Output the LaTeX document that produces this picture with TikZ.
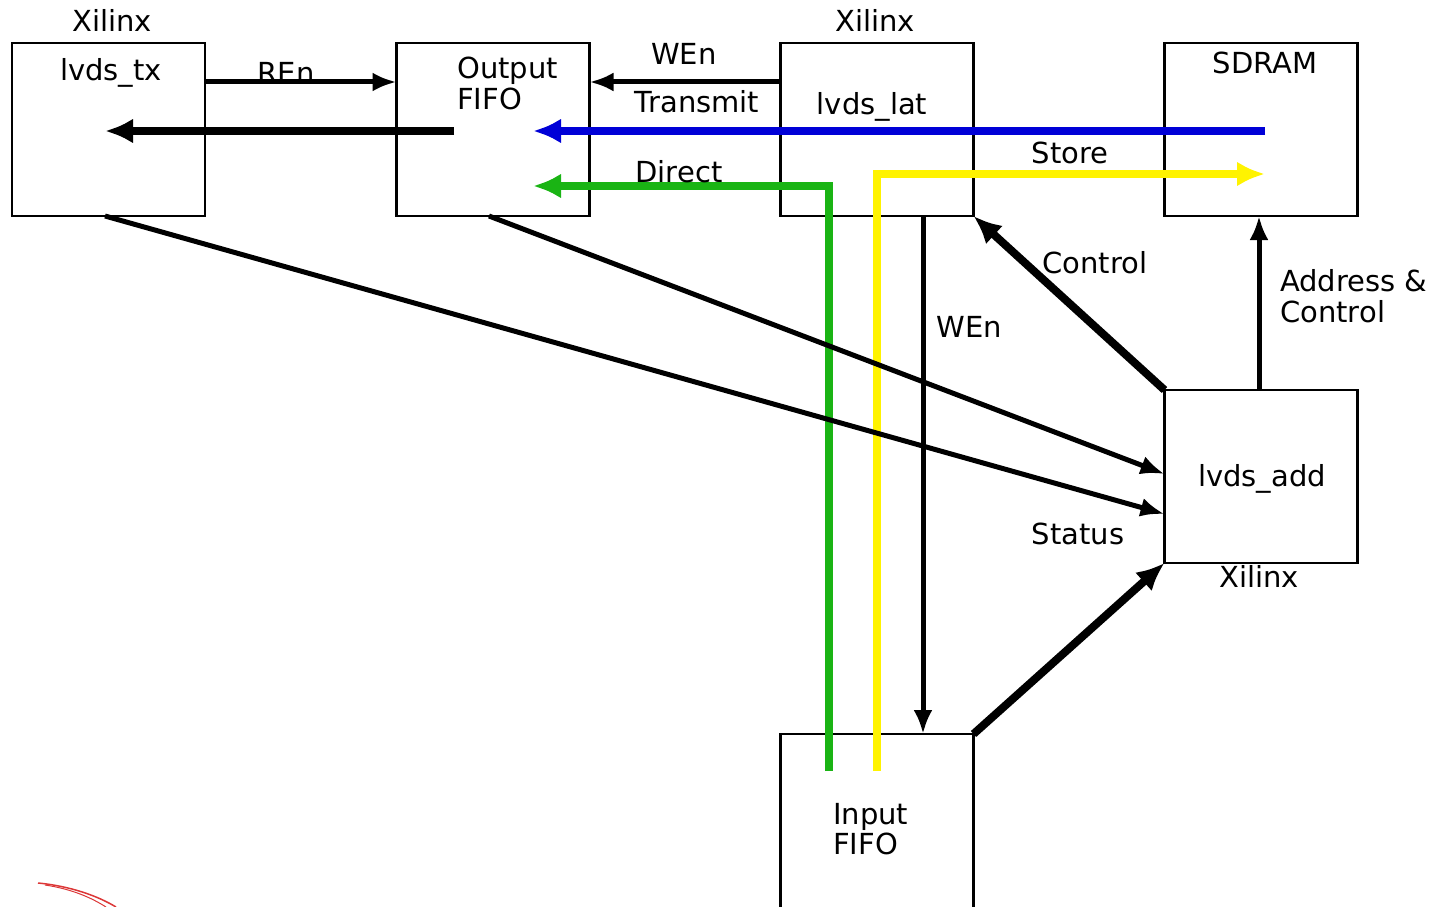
\documentclass[tikz,border=0pt]{standalone}
\usepackage{fontspec}
\setmainfont{DejaVu Sans}
\usetikzlibrary{arrows.meta}

\definecolor{busblue}{RGB}{0,0,215}
\definecolor{busgreen}{RGB}{26,180,20}
\definecolor{busyellow}{RGB}{255,243,0}
\definecolor{swoosh}{RGB}{220,55,55}

\begin{document}
\begin{tikzpicture}[x=1pt,y=-1pt,font=\fontsize{29}{31}\selectfont,
  blk/.style={draw,line width=2.5pt,minimum width=193pt,minimum height=173pt,inner sep=0pt,outer sep=0pt},
  lbl/.style={inner sep=0pt,anchor=base},
  lbll/.style={inner sep=0pt,anchor=base west},
  wire/.style={line width=5pt,-{Latex[length=24pt,width=19pt]}},
  bus/.style={line width=8pt,-{Latex[length=28pt,width=25pt]}}]
 \useasboundingbox (0,0) rectangle (1446,907);

 % blocks
 \node[blk] (tx) at (108.5,129.5) {};
 \node[blk] (ofifo) at (493,129.5) {};
 \node[blk] (lat) at (877,129.5) {};
 \node[blk] (sdram) at (1261,129.5) {};
 \node[blk] (add) at (1261,476.5) {};
 \node[blk,minimum height=180pt] (ififo) at (877,824) {};

 % block texts
 \node[lbl] (txchip) at (112,32) {Xilinx};
 \node[lbl] (txname) at (111,81) {lvds\_tx};
 \node[lbll] (ofname) at (457,78) {Output};
 \node[lbll] (ofname2) at (457,109) {FIFO};
 \node[lbl] (latchip) at (875,32) {Xilinx};
 \node[lbl] (latname) at (872,114) {lvds\_lat};
 \node[lbl] (sdname) at (1265,74) {SDRAM};
 \node[lbl] (addname) at (1262,486) {lvds\_add};
 \node[lbl] (addchip) at (1259,587) {Xilinx};
 \node[lbll] (ifname) at (833,824) {Input};
 \node[lbll] (ifname2) at (833,854) {FIFO};

 % free ends inside the blocks
 \coordinate (txin) at (105,131);
 \coordinate (ofout) at (454,131);
 \coordinate (ofin) at (533,131);
 \coordinate (ofdir) at (533,186);
 \coordinate (sdout) at (1265,131);
 \coordinate (sdin) at (1265,174);
 \coordinate (ifgreen) at (829,771);
 \coordinate (ifyellow) at (877,771);

 % connectors
 \draw[wire] (tx.east |- 0,82) -- (ofifo.west |- 0,82);
 \draw[bus] (ofout) -- (txin);
 \draw[wire] (lat.west |- 0,82) -- (ofifo.east |- 0,82);
 \draw[bus,busblue] (sdout) -- (ofin);
 \draw[bus,busgreen] (ifgreen) -- (ifgreen |- ofdir) -- (ofdir);
 \draw[bus,busyellow] (ifyellow) -- (ifyellow |- sdin) -- (sdin);
 \draw[wire] (lat.south -| 923,0) -- (ififo.north -| 923,0);
 \draw[bus] (add.north west) -- (lat.south east);
 \draw[wire] (add.north -| 1259,0) -- (sdram.south -| 1259,0);
 \draw[wire] (tx.south -| 105,0) -- (add.west |- 0,514);
 \draw[wire] (ofifo.south -| 489,0) -- (add.west |- 0,474);
 \draw[bus] (ififo.north east) -- (add.south west);

 % connector texts
 \node[lbl] (ren) at (286,84) {REn};
 \node[lbl] (wen) at (684,64) {WEn};
 \node[lbl] (trans) at (697,112) {Transmit};
 \node[lbl] (direct) at (679,182) {Direct};
 \node[lbl] (store) at (1070,163) {Store};
 \node[lbl] (ctrl) at (1095,273) {Control};
 \node[lbl] (wen2) at (969,337) {WEn};
 \node[lbll] (addr) at (1280,291) {Address \&};
 \node[lbll] (addr2) at (1280,322) {Control};
 \node[lbl] (status) at (1078,544) {Status};

 % logo fragment
 \draw[swoosh,line width=1.5pt] (38,883) .. controls (70,886) and (98,896) .. (116,907);
 \draw[swoosh,line width=1pt] (45,885) .. controls (72,889) and (92,898) .. (106,907);
\end{tikzpicture}
\end{document}
